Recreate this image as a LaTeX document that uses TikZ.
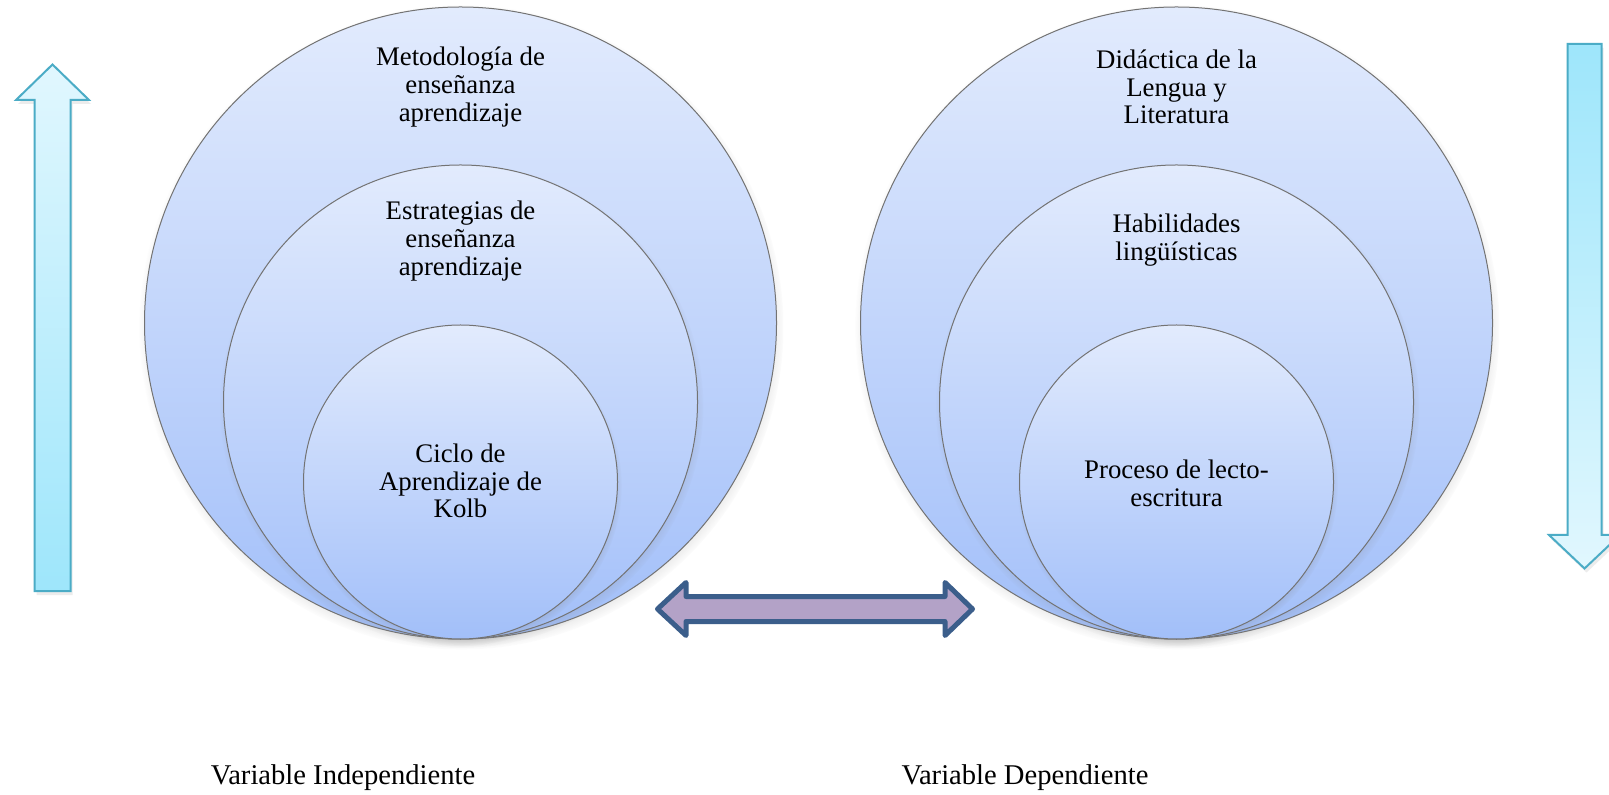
\documentclass[tikz,border=0pt]{standalone}
\usepackage{fontspec}
\setmainfont{Liberation Serif}
\usetikzlibrary{shadows}
\definecolor{circle top}{RGB}{226,235,253}
\definecolor{circle bottom}{RGB}{162,191,249}
\definecolor{aqua light}{RGB}{225,247,254}
\definecolor{aqua dark}{RGB}{158,230,251}
\definecolor{aqua line}{RGB}{75,172,198}
\definecolor{link purple}{RGB}{179,162,199}
\definecolor{link blue}{RGB}{59,94,139}

\begin{document}
\begin{tikzpicture}[x=0.5pt, y=-0.5pt,
					venn circle/.style={draw=black!55, line width=0.5pt, circle, inner sep=0pt,
						top color=circle top, bottom color=circle bottom,
						circular drop shadow={shadow scale=1.02, shadow xshift=0.5pt, shadow yshift=-2pt, opacity=0.6}},
					venn label/.style={align=center, font=\fontsize{13.4pt}{13.85pt}\selectfont},
					var label/.style={font=\fontsize{14.3pt}{17pt}\selectfont},
					vert arrow/.style={draw=aqua line, line width=1pt,
						drop shadow={shadow xshift=1pt, shadow yshift=-2pt, opacity=0.15}},
					link arrow/.style={draw=link blue, fill=link purple, line width=2.5pt, line join=round},
				]
					\fill[white] (0,0) rectangle (1609,795);
					\useasboundingbox (0,0) rectangle (1609,795);

					% independent variable
					\node[venn circle, minimum size=316pt] (lo) at (460.5,323) {};
					\node[venn circle, minimum size=237pt, anchor=south] (lm) at (lo.south) {};
					\node[venn circle, minimum size=157pt, anchor=south] (li) at (lo.south) {};

					% dependent variable
					\node[venn circle, minimum size=316pt] (ro) at (1176.5,323) {};
					\node[venn circle, minimum size=237pt, anchor=south] (rm) at (ro.south) {};
					\node[venn circle, minimum size=157pt, anchor=south] (ri) at (ro.south) {};

					\node[venn label] (lo-text) at (460.5,87) {Metodología de\\enseñanza\\aprendizaje};
					\node[venn label] (lm-text) at (460.5,241) {Estrategias de\\enseñanza\\aprendizaje};
					\node[venn label] (li-text) at (460.5,481) {Ciclo de\\Aprendizaje de\\Kolb};
					\node[venn label] (ro-text) at (1176.5,87) {Didáctica de la\\Lengua y\\Literatura};
					\node[venn label] (rm-text) at (1176.5,240) {Habilidades\\lingüísticas};
					\node[venn label] (ri-text) at (1176.5,483) {Proceso de lecto-\\escritura};

					\node[var label] (indep) at (343,778) {Variable Independiente};
					\node[var label] (dep) at (1025,778) {Variable Dependiente};

					% block arrows
					\draw[vert arrow, top color=aqua light, bottom color=aqua dark]
						(52.5,64.5) -- (89,100) -- (70.5,100) -- (70.5,591) -- (34.5,591) -- (34.5,100) -- (16,100) -- cycle;
					\draw[vert arrow, top color=aqua dark, bottom color=aqua light]
						(1567.5,44) -- (1601.5,44) -- (1601.5,535) -- (1620,535) -- (1584.5,568.5) -- (1549,535) -- (1567.5,535) -- cycle;
					\draw[link arrow]
						(657.5,609) -- (686,582.5) -- (686,596.5) -- (945,596.5) -- (945,582.5) -- (972.5,609)
						-- (945,635.5) -- (945,621.5) -- (686,621.5) -- (686,635.5) -- cycle;
				\end{tikzpicture}
\end{document}
